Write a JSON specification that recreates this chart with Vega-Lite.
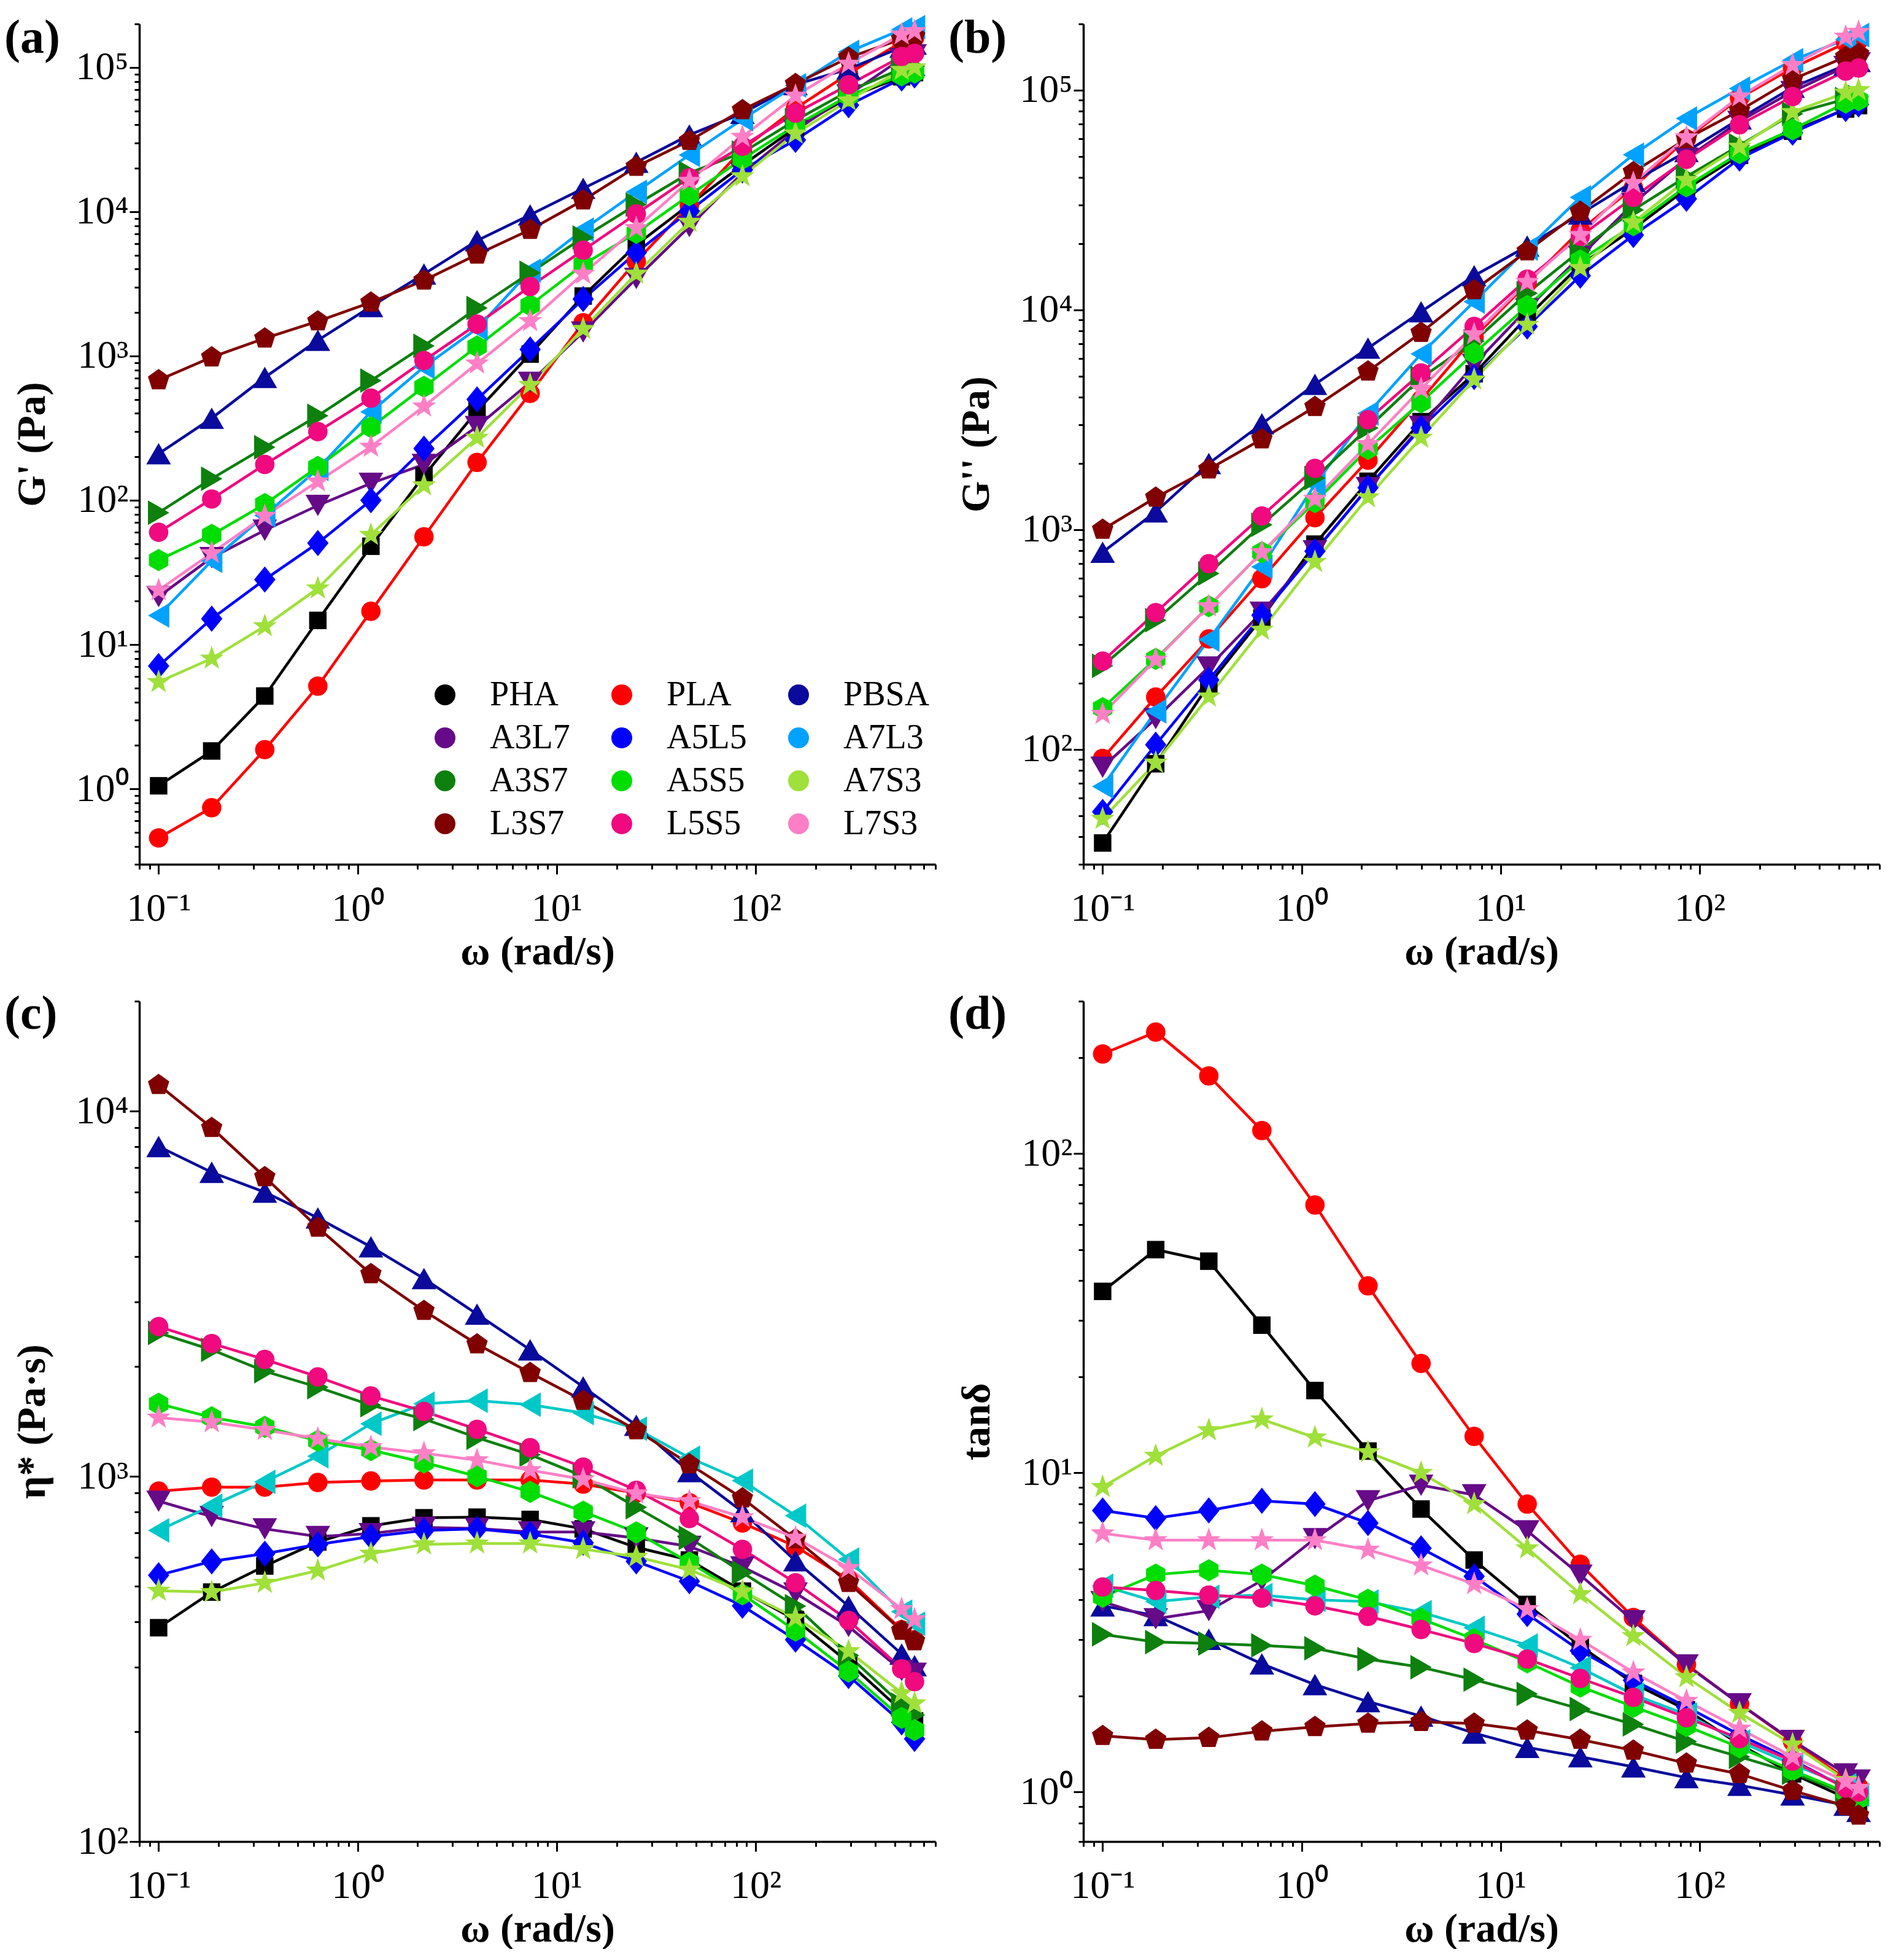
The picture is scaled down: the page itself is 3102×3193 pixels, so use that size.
{
  "$schema": "https://vega.github.io/schema/vega-lite/v6.json",
  "padding": {"left": 7, "top": 7, "right": 0, "bottom": 0},
  "background": "white",
  "config": {
    "font": "Liberation Serif",
    "view": {"stroke": null},
    "axis": {"grid": false, "domainColor": "#000000", "domainWidth": 3.5, "tickColor": "#000000", "tickWidth": 3,
      "labelFont": "Liberation Serif", "labelFontSize": 64, "labelColor": "#000000",
      "titleFont": "Liberation Serif", "titleFontSize": 66, "titleFontWeight": "bold", "titleColor": "#000000",
      "labelOverlap": false, "labelFlush": false},
    "axisX": {"labelPadding": 24, "titlePadding": 6},
    "axisY": {"labelPadding": 2, "titlePadding": 36},
    "title": {"font": "Liberation Serif", "fontSize": 78, "fontWeight": "bold", "color": "#000000", "anchor": "start", "frame": "group", "dx": -220},
    "legend": {"labelFont": "Liberation Serif", "labelFontSize": 56, "labelColor": "#000000", "symbolSize": 900, "symbolStrokeWidth": 4, "symbolOffset": 51, "labelOffset": 45, "rowPadding": 14, "columnPadding": 5, "padding": 0, "labelLimit": 400}
  },
  "data": {"values": [
    {"s":"PHA","w":0.1,"gp":1.05,"gpp":37.5,"eta":385,"tan":37},
    {"s":"PHA","w":0.1848,"gp":1.83,"gpp":86,"eta":482,"tan":50},
    {"s":"PHA","w":0.3415,"gp":4.4,"gpp":197,"eta":568,"tan":46},
    {"s":"PHA","w":0.631,"gp":14.7,"gpp":396,"eta":661,"tan":29},
    {"s":"PHA","w":1.166,"gp":48,"gpp":859,"eta":732,"tan":18.1},
    {"s":"PHA","w":2.154,"gp":148,"gpp":1660,"eta":770,"tan":11.7},
    {"s":"PHA","w":3.981,"gp":417,"gpp":3100,"eta":773,"tan":7.7},
    {"s":"PHA","w":7.356,"gp":1030,"gpp":5120,"eta":762,"tan":5.33},
    {"s":"PHA","w":13.59,"gp":2600,"gpp":9270,"eta":718,"tan":3.87},
    {"s":"PHA","w":25.12,"gp":5890,"gpp":16000,"eta":639,"tan":2.87},
    {"s":"PHA","w":46.42,"gp":11200,"gpp":23400,"eta":590,"tan":2.19},
    {"s":"PHA","w":85.77,"gp":21000,"gpp":35500,"eta":485,"tan":1.81},
    {"s":"PHA","w":158.5,"gp":38000,"gpp":50500,"eta":405,"tan":1.41},
    {"s":"PHA","w":292.9,"gp":62000,"gpp":65000,"eta":309,"tan":1.14},
    {"s":"PHA","w":541.2,"gp":86000,"gpp":82000,"eta":228,"tan":0.96},
    {"s":"PHA","w":628.3,"gp":92000,"gpp":85000,"eta":214,"tan":0.9},
    {"s":"PLA","w":0.1,"gp":0.457,"gpp":91,"eta":911,"tan":205},
    {"s":"PLA","w":0.1848,"gp":0.74,"gpp":173,"eta":934,"tan":240},
    {"s":"PLA","w":0.3415,"gp":1.87,"gpp":318,"eta":934,"tan":175},
    {"s":"PLA","w":0.631,"gp":5.15,"gpp":598,"eta":962,"tan":118},
    {"s":"PLA","w":1.166,"gp":17,"gpp":1133,"eta":971,"tan":69},
    {"s":"PLA","w":2.154,"gp":55.8,"gpp":2070,"eta":977,"tan":38.5},
    {"s":"PLA","w":3.981,"gp":183,"gpp":3900,"eta":977,"tan":22},
    {"s":"PLA","w":7.356,"gp":550,"gpp":7490,"eta":977,"tan":13},
    {"s":"PLA","w":13.59,"gp":1700,"gpp":13200,"eta":952,"tan":7.98},
    {"s":"PLA","w":25.12,"gp":4540,"gpp":23000,"eta":900,"tan":5.17},
    {"s":"PLA","w":46.42,"gp":11000,"gpp":36000,"eta":847,"tan":3.52},
    {"s":"PLA","w":85.77,"gp":27000,"gpp":60000,"eta":745,"tan":2.51},
    {"s":"PLA","w":158.5,"gp":52000,"gpp":92000,"eta":643,"tan":1.89},
    {"s":"PLA","w":292.9,"gp":90400,"gpp":126000,"eta":521,"tan":1.44},
    {"s":"PLA","w":541.2,"gp":150000,"gpp":164000,"eta":380,"tan":1.1},
    {"s":"PLA","w":628.3,"gp":160000,"gpp":168000,"eta":357,"tan":1.04},
    {"s":"PBSA","w":0.1,"gp":210,"gpp":789,"eta":8000,"tan":3.83},
    {"s":"PBSA","w":0.1848,"gp":370,"gpp":1205,"eta":6800,"tan":3.57},
    {"s":"PBSA","w":0.3415,"gp":710,"gpp":2000,"eta":6000,"tan":3.01},
    {"s":"PBSA","w":0.631,"gp":1285,"gpp":3030,"eta":5100,"tan":2.52},
    {"s":"PBSA","w":1.166,"gp":2200,"gpp":4580,"eta":4250,"tan":2.17},
    {"s":"PBSA","w":2.154,"gp":3700,"gpp":6700,"eta":3480,"tan":1.92},
    {"s":"PBSA","w":3.981,"gp":6300,"gpp":9800,"eta":2780,"tan":1.73},
    {"s":"PBSA","w":7.356,"gp":9500,"gpp":14300,"eta":2220,"tan":1.53},
    {"s":"PBSA","w":13.59,"gp":14500,"gpp":19500,"eta":1758,"tan":1.38},
    {"s":"PBSA","w":25.12,"gp":22000,"gpp":27300,"eta":1380,"tan":1.29},
    {"s":"PBSA","w":46.42,"gp":34000,"gpp":38400,"eta":1030,"tan":1.2},
    {"s":"PBSA","w":85.77,"gp":48000,"gpp":52500,"eta":800,"tan":1.11},
    {"s":"PBSA","w":158.5,"gp":76000,"gpp":74000,"eta":587,"tan":1.05},
    {"s":"PBSA","w":292.9,"gp":97500,"gpp":103000,"eta":441,"tan":0.98},
    {"s":"PBSA","w":541.2,"gp":138000,"gpp":130000,"eta":326,"tan":0.91},
    {"s":"PBSA","w":628.3,"gp":145000,"gpp":135000,"eta":303,"tan":0.87},
    {"s":"A3L7","w":0.1,"gp":21.5,"gpp":83,"eta":855,"tan":3.95},
    {"s":"A3L7","w":0.1848,"gp":40,"gpp":138,"eta":776,"tan":3.49},
    {"s":"A3L7","w":0.3415,"gp":62,"gpp":237,"eta":718,"tan":3.7},
    {"s":"A3L7","w":0.631,"gp":92,"gpp":421,"eta":684,"tan":4.6},
    {"s":"A3L7","w":1.166,"gp":131,"gpp":800,"eta":697,"tan":6.22},
    {"s":"A3L7","w":2.154,"gp":177,"gpp":1552,"eta":725,"tan":8.17},
    {"s":"A3L7","w":3.981,"gp":324,"gpp":2950,"eta":720,"tan":9.14},
    {"s":"A3L7","w":7.356,"gp":656,"gpp":5650,"eta":704,"tan":8.53},
    {"s":"A3L7","w":13.59,"gp":1465,"gpp":10100,"eta":704,"tan":6.58},
    {"s":"A3L7","w":25.12,"gp":3445,"gpp":17500,"eta":678,"tan":4.78},
    {"s":"A3L7","w":46.42,"gp":7890,"gpp":30500,"eta":643,"tan":3.44},
    {"s":"A3L7","w":85.77,"gp":18500,"gpp":49000,"eta":565,"tan":2.5},
    {"s":"A3L7","w":158.5,"gp":36600,"gpp":72000,"eta":479,"tan":1.89},
    {"s":"A3L7","w":292.9,"gp":64500,"gpp":98500,"eta":388,"tan":1.45},
    {"s":"A3L7","w":541.2,"gp":115000,"gpp":128000,"eta":294,"tan":1.14},
    {"s":"A3L7","w":628.3,"gp":122000,"gpp":133000,"eta":289,"tan":1.09},
    {"s":"A5L5","w":0.1,"gp":7.1,"gpp":52,"eta":536,"tan":7.62},
    {"s":"A5L5","w":0.1848,"gp":15.1,"gpp":105,"eta":585,"tan":7.21},
    {"s":"A5L5","w":0.3415,"gp":28.2,"gpp":207,"eta":614,"tan":7.62},
    {"s":"A5L5","w":0.631,"gp":50.5,"gpp":408,"eta":651,"tan":8.17},
    {"s":"A5L5","w":1.166,"gp":100,"gpp":797,"eta":684,"tan":7.98},
    {"s":"A5L5","w":2.154,"gp":228,"gpp":1552,"eta":711,"tan":6.96},
    {"s":"A5L5","w":3.981,"gp":500,"gpp":2900,"eta":718,"tan":5.8},
    {"s":"A5L5","w":7.356,"gp":1110,"gpp":4950,"eta":695,"tan":4.74},
    {"s":"A5L5","w":13.59,"gp":2480,"gpp":8400,"eta":658,"tan":3.61},
    {"s":"A5L5","w":25.12,"gp":5200,"gpp":14300,"eta":585,"tan":2.77},
    {"s":"A5L5","w":46.42,"gp":10100,"gpp":21900,"eta":516,"tan":2.24},
    {"s":"A5L5","w":85.77,"gp":19500,"gpp":32000,"eta":442,"tan":1.85},
    {"s":"A5L5","w":158.5,"gp":31400,"gpp":48800,"eta":357,"tan":1.51},
    {"s":"A5L5","w":292.9,"gp":54700,"gpp":64000,"eta":284,"tan":1.26},
    {"s":"A5L5","w":541.2,"gp":83700,"gpp":82000,"eta":212,"tan":1.03},
    {"s":"A5L5","w":628.3,"gp":88000,"gpp":86000,"eta":191,"tan":0.97},
    {"s":"A7L3","w":0.1,"gp":15.9,"gpp":67.8,"eta":711,"tan":4.43},
    {"s":"A7L3","w":0.1848,"gp":38,"gpp":149,"eta":831,"tan":3.95},
    {"s":"A7L3","w":0.3415,"gp":78.5,"gpp":316,"eta":966,"tan":4.09},
    {"s":"A7L3","w":0.631,"gp":165,"gpp":677,"eta":1135,"tan":4.14},
    {"s":"A7L3","w":1.166,"gp":410,"gpp":1605,"eta":1393,"tan":4.0},
    {"s":"A7L3","w":2.154,"gp":840,"gpp":3380,"eta":1580,"tan":3.95},
    {"s":"A7L3","w":3.981,"gp":1550,"gpp":6300,"eta":1611,"tan":3.66},
    {"s":"A7L3","w":7.356,"gp":3890,"gpp":10900,"eta":1571,"tan":3.27},
    {"s":"A7L3","w":13.59,"gp":7500,"gpp":19000,"eta":1490,"tan":2.88},
    {"s":"A7L3","w":25.12,"gp":13700,"gpp":32500,"eta":1350,"tan":2.45},
    {"s":"A7L3","w":46.42,"gp":24700,"gpp":50800,"eta":1124,"tan":2.02},
    {"s":"A7L3","w":85.77,"gp":43700,"gpp":74300,"eta":973,"tan":1.75},
    {"s":"A7L3","w":158.5,"gp":75000,"gpp":101600,"eta":780,"tan":1.44},
    {"s":"A7L3","w":292.9,"gp":128000,"gpp":136800,"eta":592,"tan":1.22},
    {"s":"A7L3","w":541.2,"gp":183000,"gpp":170000,"eta":426,"tan":1.05},
    {"s":"A7L3","w":628.3,"gp":190000,"gpp":178000,"eta":395,"tan":0.98},
    {"s":"A3S7","w":0.1,"gp":82,"gpp":240,"eta":2470,"tan":3.12},
    {"s":"A3S7","w":0.1848,"gp":141,"gpp":387,"eta":2220,"tan":2.95},
    {"s":"A3S7","w":0.3415,"gp":233,"gpp":632,"eta":1940,"tan":2.92},
    {"s":"A3S7","w":0.631,"gp":385,"gpp":1052,"eta":1754,"tan":2.88},
    {"s":"A3S7","w":1.166,"gp":675,"gpp":1718,"eta":1566,"tan":2.82},
    {"s":"A3S7","w":2.154,"gp":1175,"gpp":2900,"eta":1435,"tan":2.61},
    {"s":"A3S7","w":3.981,"gp":2150,"gpp":4900,"eta":1276,"tan":2.46},
    {"s":"A3S7","w":7.356,"gp":3770,"gpp":7200,"eta":1146,"tan":2.25},
    {"s":"A3S7","w":13.59,"gp":6620,"gpp":11900,"eta":1000,"tan":2.03},
    {"s":"A3S7","w":25.12,"gp":11200,"gpp":18600,"eta":823,"tan":1.82},
    {"s":"A3S7","w":46.42,"gp":18550,"gpp":28500,"eta":679,"tan":1.63},
    {"s":"A3S7","w":85.77,"gp":25700,"gpp":40400,"eta":545,"tan":1.44},
    {"s":"A3S7","w":158.5,"gp":43000,"gpp":56000,"eta":441,"tan":1.29},
    {"s":"A3S7","w":292.9,"gp":68500,"gpp":78000,"eta":323,"tan":1.15},
    {"s":"A3S7","w":541.2,"gp":98000,"gpp":91000,"eta":237,"tan":0.99},
    {"s":"A3S7","w":628.3,"gp":102000,"gpp":93000,"eta":222,"tan":0.94},
    {"s":"A5S5","w":0.1,"gp":38.5,"gpp":154,"eta":1580,"tan":4.09},
    {"s":"A5S5","w":0.1848,"gp":57.5,"gpp":258,"eta":1450,"tan":4.8},
    {"s":"A5S5","w":0.3415,"gp":94,"gpp":448,"eta":1366,"tan":4.95},
    {"s":"A5S5","w":0.631,"gp":170,"gpp":789,"eta":1251,"tan":4.8},
    {"s":"A5S5","w":1.166,"gp":321,"gpp":1333,"eta":1180,"tan":4.43},
    {"s":"A5S5","w":2.154,"gp":611,"gpp":2330,"eta":1091,"tan":4.0},
    {"s":"A5S5","w":3.981,"gp":1163,"gpp":3800,"eta":1000,"tan":3.49},
    {"s":"A5S5","w":7.356,"gp":2245,"gpp":6350,"eta":907,"tan":3.01},
    {"s":"A5S5","w":13.59,"gp":4310,"gpp":10400,"eta":800,"tan":2.55},
    {"s":"A5S5","w":25.12,"gp":7130,"gpp":16800,"eta":702,"tan":2.14},
    {"s":"A5S5","w":46.42,"gp":13000,"gpp":24300,"eta":581,"tan":1.85},
    {"s":"A5S5","w":85.77,"gp":23200,"gpp":36500,"eta":475,"tan":1.61},
    {"s":"A5S5","w":158.5,"gp":39500,"gpp":51700,"eta":378,"tan":1.38},
    {"s":"A5S5","w":292.9,"gp":63500,"gpp":66200,"eta":292,"tan":1.17},
    {"s":"A5S5","w":541.2,"gp":88000,"gpp":87700,"eta":218,"tan":1.0},
    {"s":"A5S5","w":628.3,"gp":92000,"gpp":90000,"eta":202,"tan":0.95},
    {"s":"A7S3","w":0.1,"gp":5.5,"gpp":48.3,"eta":486,"tan":9.03},
    {"s":"A7S3","w":0.1848,"gp":8.0,"gpp":87,"eta":482,"tan":11.3},
    {"s":"A7S3","w":0.3415,"gp":13.4,"gpp":174,"eta":511,"tan":13.6},
    {"s":"A7S3","w":0.631,"gp":24.5,"gpp":350,"eta":552,"tan":14.7},
    {"s":"A7S3","w":1.166,"gp":57.5,"gpp":713,"eta":614,"tan":12.9},
    {"s":"A7S3","w":2.154,"gp":127,"gpp":1403,"eta":651,"tan":11.6},
    {"s":"A7S3","w":3.981,"gp":271,"gpp":2620,"eta":655,"tan":10.0},
    {"s":"A7S3","w":7.356,"gp":630,"gpp":4820,"eta":655,"tan":7.98},
    {"s":"A7S3","w":13.59,"gp":1540,"gpp":8550,"eta":632,"tan":5.8},
    {"s":"A7S3","w":25.12,"gp":3715,"gpp":15500,"eta":602,"tan":4.17},
    {"s":"A7S3","w":46.42,"gp":8500,"gpp":25000,"eta":555,"tan":3.08},
    {"s":"A7S3","w":85.77,"gp":17600,"gpp":39000,"eta":484,"tan":2.29},
    {"s":"A7S3","w":158.5,"gp":34800,"gpp":55200,"eta":410,"tan":1.77},
    {"s":"A7S3","w":292.9,"gp":59000,"gpp":79400,"eta":332,"tan":1.41},
    {"s":"A7S3","w":541.2,"gp":96000,"gpp":97300,"eta":255,"tan":1.09},
    {"s":"A7S3","w":628.3,"gp":100000,"gpp":100000,"eta":239,"tan":1.03},
    {"s":"L3S7","w":0.1,"gp":680,"gpp":1000,"eta":11800,"tan":1.5},
    {"s":"L3S7","w":0.1848,"gp":980,"gpp":1400,"eta":9000,"tan":1.46},
    {"s":"L3S7","w":0.3415,"gp":1325,"gpp":1883,"eta":6600,"tan":1.48},
    {"s":"L3S7","w":0.631,"gp":1740,"gpp":2580,"eta":4800,"tan":1.55},
    {"s":"L3S7","w":1.166,"gp":2350,"gpp":3620,"eta":3580,"tan":1.6},
    {"s":"L3S7","w":2.154,"gp":3340,"gpp":5250,"eta":2840,"tan":1.64},
    {"s":"L3S7","w":3.981,"gp":5050,"gpp":7870,"eta":2300,"tan":1.66},
    {"s":"L3S7","w":7.356,"gp":7500,"gpp":12300,"eta":1920,"tan":1.64},
    {"s":"L3S7","w":13.59,"gp":12000,"gpp":18500,"eta":1611,"tan":1.56},
    {"s":"L3S7","w":25.12,"gp":20500,"gpp":28000,"eta":1339,"tan":1.46},
    {"s":"L3S7","w":46.42,"gp":31000,"gpp":42400,"eta":1080,"tan":1.35},
    {"s":"L3S7","w":85.77,"gp":50700,"gpp":60000,"eta":871,"tan":1.23},
    {"s":"L3S7","w":158.5,"gp":76800,"gpp":80700,"eta":673,"tan":1.14},
    {"s":"L3S7","w":292.9,"gp":117000,"gpp":112000,"eta":511,"tan":1.01},
    {"s":"L3S7","w":541.2,"gp":157000,"gpp":141600,"eta":378,"tan":0.905},
    {"s":"L3S7","w":628.3,"gp":165000,"gpp":146000,"eta":354,"tan":0.845},
    {"s":"L5S5","w":0.1,"gp":60,"gpp":252,"eta":2570,"tan":4.39},
    {"s":"L5S5","w":0.1848,"gp":102,"gpp":419,"eta":2310,"tan":4.28},
    {"s":"L5S5","w":0.3415,"gp":177,"gpp":700,"eta":2090,"tan":4.14},
    {"s":"L5S5","w":0.631,"gp":299,"gpp":1153,"eta":1872,"tan":4.05},
    {"s":"L5S5","w":1.166,"gp":510,"gpp":1900,"eta":1660,"tan":3.83},
    {"s":"L5S5","w":2.154,"gp":930,"gpp":3160,"eta":1506,"tan":3.55},
    {"s":"L5S5","w":3.981,"gp":1660,"gpp":5160,"eta":1345,"tan":3.23},
    {"s":"L5S5","w":7.356,"gp":3030,"gpp":8400,"eta":1198,"tan":2.92},
    {"s":"L5S5","w":13.59,"gp":5410,"gpp":13800,"eta":1060,"tan":2.61},
    {"s":"L5S5","w":25.12,"gp":9660,"gpp":21600,"eta":916,"tan":2.27},
    {"s":"L5S5","w":46.42,"gp":17200,"gpp":32500,"eta":766,"tan":1.98},
    {"s":"L5S5","w":85.77,"gp":28400,"gpp":48400,"eta":631,"tan":1.71},
    {"s":"L5S5","w":158.5,"gp":48200,"gpp":69500,"eta":511,"tan":1.47},
    {"s":"L5S5","w":292.9,"gp":75700,"gpp":93500,"eta":403,"tan":1.25},
    {"s":"L5S5","w":541.2,"gp":119000,"gpp":122000,"eta":297,"tan":1.03},
    {"s":"L5S5","w":628.3,"gp":125000,"gpp":126000,"eta":274,"tan":1.0},
    {"s":"L7S3","w":0.1,"gp":23.8,"gpp":145,"eta":1448,"tan":6.46},
    {"s":"L7S3","w":0.1848,"gp":43,"gpp":256,"eta":1407,"tan":6.15},
    {"s":"L7S3","w":0.3415,"gp":78,"gpp":448,"eta":1340,"tan":6.15},
    {"s":"L7S3","w":0.631,"gp":135,"gpp":789,"eta":1268,"tan":6.15},
    {"s":"L7S3","w":1.166,"gp":235,"gpp":1380,"eta":1203,"tan":6.15},
    {"s":"L7S3","w":2.154,"gp":447,"gpp":2450,"eta":1157,"tan":5.74},
    {"s":"L7S3","w":3.981,"gp":887,"gpp":4365,"eta":1107,"tan":5.13},
    {"s":"L7S3","w":7.356,"gp":1745,"gpp":7740,"eta":1040,"tan":4.48},
    {"s":"L7S3","w":13.59,"gp":3715,"gpp":13400,"eta":981,"tan":3.74},
    {"s":"L7S3","w":25.12,"gp":7700,"gpp":21900,"eta":898,"tan":3.0},
    {"s":"L7S3","w":46.42,"gp":16350,"gpp":37800,"eta":855,"tan":2.37},
    {"s":"L7S3","w":85.77,"gp":33000,"gpp":61000,"eta":773,"tan":1.93},
    {"s":"L7S3","w":158.5,"gp":63600,"gpp":93500,"eta":679,"tan":1.58},
    {"s":"L7S3","w":292.9,"gp":106000,"gpp":130000,"eta":561,"tan":1.29},
    {"s":"L7S3","w":541.2,"gp":169000,"gpp":175000,"eta":433,"tan":1.08},
    {"s":"L7S3","w":628.3,"gp":178000,"gpp":184000,"eta":406,"tan":1.03}
  ]},
  "columns": 2,
  "spacing": {"row": 223, "column": 241},
  "bounds": "flush",
  "resolve": {
    "scale": {"x": "independent", "y": "independent", "color": "independent", "shape": "independent"},
    "legend": {"color": "independent", "shape": "independent"}
  },
  "concat": [
    {
      "width": 1297, "height": 1369,
      "title": {"text": "(a)", "offset": -95},
      "encoding": {
        "x": {"field": "w", "type": "quantitative",
          "scale": {"type": "log", "domain": [0.08, 800], "nice": false},
          "axis": {"title": "ω (rad/s)", "values": [0.08,0.09,0.1,0.2,0.3,0.4,0.5,0.6,0.7,0.8,0.9,1,2,3,4,5,6,7,8,9,10,20,30,40,50,60,70,80,90,100,200,300,400,500,600,700,800],
            "tickSize": {"expr": "abs(log(datum.value)/LN10 - round(log(datum.value)/LN10)) < 0.000001 ? 16 : 8"},
            "labelExpr": "abs(log(datum.value)/LN10 - round(log(datum.value)/LN10)) < 0.000001 ? '10' + replace(replace(replace(replace(replace(replace(replace('' + round(log(datum.value)/LN10), '-', '⁻'), '0', '⁰'), '1', '¹'), '2', '²'), '3', '³'), '4', '⁴'), '5', '⁵') : ''"}},
        "y": {"field": "gp", "type": "quantitative",
          "scale": {"type": "log", "domain": [0.3, 200000], "nice": false},
          "axis": {"title": "G' (Pa)", "values": [0.3,0.4,0.5,0.6,0.7,0.8,0.9,1,2,3,4,5,6,7,8,9,10,20,30,40,50,60,70,80,90,100,200,300,400,500,600,700,800,900,1000,2000,3000,4000,5000,6000,7000,8000,9000,10000,20000,30000,40000,50000,60000,70000,80000,90000,100000,200000],
            "tickSize": {"expr": "abs(log(datum.value)/LN10 - round(log(datum.value)/LN10)) < 0.000001 ? 16 : 8"},
            "labelExpr": "abs(log(datum.value)/LN10 - round(log(datum.value)/LN10)) < 0.000001 ? '10' + replace(replace(replace(replace(replace(replace(replace('' + round(log(datum.value)/LN10), '-', '⁻'), '0', '⁰'), '1', '¹'), '2', '²'), '3', '³'), '4', '⁴'), '5', '⁵') : ''"}}
      },
      "layer": [
        {"mark": {"type": "line", "strokeWidth": 4.5},
         "encoding": {"color": {"field": "s", "type": "nominal",
           "scale": {"domain": ["PHA","PLA","PBSA","A3L7","A5L5","A7L3","A3S7","A5S5","A7S3","L3S7","L5S5","L7S3"],
             "range": ["#000000","#ff0000","#0a0a9c","#660a88","#0000ff","#00a2ff","#0d800d","#00dd00","#9fe03a","#800000","#f0097f","#ff7fc6"]}}}},
        {"mark": {"type": "point", "filled": true, "size": 1000, "opacity": 1},
         "encoding": {
           "color": {"field": "s", "type": "nominal",
             "scale": {"domain": ["PHA","PLA","PBSA","A3L7","A5L5","A7L3","A3S7","A5S5","A7S3","L3S7","L5S5","L7S3"],
               "range": ["#000000","#ff0000","#0a0a9c","#660a88","#0000ff","#00a2ff","#0d800d","#00dd00","#9fe03a","#800000","#f0097f","#ff7fc6"]},
             "legend": {"title": null, "orient": "none", "legendX": 419, "legendY": 1065, "columns": 3, "direction": "horizontal",
               "encode": {"symbols": {
                 "shape": {"value": {"signal": "{'PHA':'M-4.4,0H4.4M-0.9,-0.9H0.9V0.9H-0.9Z','PLA':'M-4.4,0H4.4M-1,0A1,1,0,1,0,1,0A1,1,0,1,0,-1,0Z','PBSA':'M-4.4,0H4.4M0,-1.1L1.27,1.1L-1.27,1.1Z','A3L7':'M-4.4,0H4.4M0,1.1L1.27,-1.1L-1.27,-1.1Z','A5L5':'M-4.4,0H4.4M0,-1.35L1.1,0L0,1.35L-1.1,0Z','A7L3':'M-4.4,0H4.4M-1.1,0L1.1,-1.27L1.1,1.27Z','A3S7':'M-4.4,0H4.4M1.1,0L-1.1,-1.27L-1.1,1.27Z','A5S5':'M-4.4,0H4.4M0,-1.15L1,-0.58L1,0.58L0,1.15L-1,0.58L-1,-0.58Z','A7S3':'M-4.4,0H4.4M0,-1.3L0.306,-0.421L1.236,-0.402L0.495,0.161L0.764,1.052L0,0.52L-0.764,1.052L-0.495,0.161L-1.236,-0.402L-0.306,-0.421Z','L3S7':'M-4.4,0H4.4M0,-1.15L1.1,-0.36L0.68,0.95L-0.68,0.95L-1.1,-0.36Z','L5S5':'M-4.4,0H4.4M-1,0A1,1,0,1,0,1,0A1,1,0,1,0,-1,0Z','L7S3':'M-4.4,0H4.4M0,-1.3L0.306,-0.421L1.236,-0.402L0.495,0.161L0.764,1.052L0,0.52L-0.764,1.052L-0.495,0.161L-1.236,-0.402L-0.306,-0.421Z'}[datum.value]"}},
                 "stroke": {"value": {"signal": "{'PHA':'#000000','PLA':'#ff0000','PBSA':'#0a0a9c','A3L7':'#660a88','A5L5':'#0000ff','A7L3':'#00a2ff','A3S7':'#0d800d','A5S5':'#00dd00','A7S3':'#9fe03a','L3S7':'#800000','L5S5':'#f0097f','L7S3':'#ff7fc6'}[datum.value]"}},
                 "strokeWidth": {"value": 4},
                 "opacity": {"value": 1}}}}},
           "shape": {"field": "s", "type": "nominal", "legend": null,
             "scale": {"domain": ["L7S3","L5S5","L3S7","A7S3","A5S5","A3S7","A7L3","A5L5","A3L7","PBSA","PLA","PHA"],
               "range": ["M0,-1.3L0.306,-0.421L1.236,-0.402L0.495,0.161L0.764,1.052L0,0.52L-0.764,1.052L-0.495,0.161L-1.236,-0.402L-0.306,-0.421Z","circle","M0,-1.15L1.1,-0.36L0.68,0.95L-0.68,0.95L-1.1,-0.36Z","M0,-1.3L0.306,-0.421L1.236,-0.402L0.495,0.161L0.764,1.052L0,0.52L-0.764,1.052L-0.495,0.161L-1.236,-0.402L-0.306,-0.421Z","M0,-1.15L1,-0.58L1,0.58L0,1.15L-1,0.58L-1,-0.58Z","M1.1,0L-1.1,-1.27L-1.1,1.27Z","M-1.1,0L1.1,-1.27L1.1,1.27Z","M0,-1.35L1.1,0L0,1.35L-1.1,0Z","M0,1.1L1.27,-1.1L-1.27,-1.1Z","M0,-1.1L1.27,1.1L-1.27,1.1Z","circle","M-0.9,-0.9H0.9V0.9H-0.9Z"]}}
         }}
      ]
    },
    {
      "width": 1297, "height": 1369,
      "title": {"text": "(b)", "offset": -95},
      "encoding": {
        "x": {"field": "w", "type": "quantitative",
          "scale": {"type": "log", "domain": [0.08, 800], "nice": false},
          "axis": {"title": "ω (rad/s)", "values": [0.08,0.09,0.1,0.2,0.3,0.4,0.5,0.6,0.7,0.8,0.9,1,2,3,4,5,6,7,8,9,10,20,30,40,50,60,70,80,90,100,200,300,400,500,600,700,800],
            "tickSize": {"expr": "abs(log(datum.value)/LN10 - round(log(datum.value)/LN10)) < 0.000001 ? 16 : 8"},
            "labelExpr": "abs(log(datum.value)/LN10 - round(log(datum.value)/LN10)) < 0.000001 ? '10' + replace(replace(replace(replace(replace(replace(replace('' + round(log(datum.value)/LN10), '-', '⁻'), '0', '⁰'), '1', '¹'), '2', '²'), '3', '³'), '4', '⁴'), '5', '⁵') : ''"}},
        "y": {"field": "gpp", "type": "quantitative",
          "scale": {"type": "log", "domain": [30, 200000], "nice": false},
          "axis": {"title": "G'' (Pa)", "values": [30,40,50,60,70,80,90,100,200,300,400,500,600,700,800,900,1000,2000,3000,4000,5000,6000,7000,8000,9000,10000,20000,30000,40000,50000,60000,70000,80000,90000,100000,200000],
            "tickSize": {"expr": "abs(log(datum.value)/LN10 - round(log(datum.value)/LN10)) < 0.000001 ? 16 : 8"},
            "labelExpr": "abs(log(datum.value)/LN10 - round(log(datum.value)/LN10)) < 0.000001 ? '10' + replace(replace(replace(replace(replace(replace(replace('' + round(log(datum.value)/LN10), '-', '⁻'), '0', '⁰'), '1', '¹'), '2', '²'), '3', '³'), '4', '⁴'), '5', '⁵') : ''"}}
      },
      "layer": [
        {"mark": {"type": "line", "strokeWidth": 4.5},
         "encoding": {"color": {"field": "s", "type": "nominal", "legend": null,
           "scale": {"domain": ["PHA","PLA","PBSA","A3L7","A5L5","A7L3","A3S7","A5S5","A7S3","L3S7","L5S5","L7S3"],
             "range": ["#000000","#ff0000","#0a0a9c","#660a88","#0000ff","#00a2ff","#0d800d","#00dd00","#9fe03a","#800000","#f0097f","#ff7fc6"]}}}},
        {"mark": {"type": "point", "filled": true, "size": 1000, "opacity": 1},
         "encoding": {
           "color": {"field": "s", "type": "nominal", "legend": null,
             "scale": {"domain": ["PHA","PLA","PBSA","A3L7","A5L5","A7L3","A3S7","A5S5","A7S3","L3S7","L5S5","L7S3"],
               "range": ["#000000","#ff0000","#0a0a9c","#660a88","#0000ff","#00a2ff","#0d800d","#00dd00","#9fe03a","#800000","#f0097f","#ff7fc6"]}},
           "shape": {"field": "s", "type": "nominal", "legend": null,
             "scale": {"domain": ["PHA","PLA","PBSA","A3L7","A5L5","A7L3","A3S7","A5S5","A7S3","L3S7","L5S5","L7S3"],
               "range": ["M-0.9,-0.9H0.9V0.9H-0.9Z","circle","M0,-1.1L1.27,1.1L-1.27,1.1Z","M0,1.1L1.27,-1.1L-1.27,-1.1Z","M0,-1.35L1.1,0L0,1.35L-1.1,0Z","M-1.1,0L1.1,-1.27L1.1,1.27Z","M1.1,0L-1.1,-1.27L-1.1,1.27Z","M0,-1.15L1,-0.58L1,0.58L0,1.15L-1,0.58L-1,-0.58Z","M0,-1.3L0.306,-0.421L1.236,-0.402L0.495,0.161L0.764,1.052L0,0.52L-0.764,1.052L-0.495,0.161L-1.236,-0.402L-0.306,-0.421Z","M0,-1.15L1.1,-0.36L0.68,0.95L-0.68,0.95L-1.1,-0.36Z","circle","M0,-1.3L0.306,-0.421L1.236,-0.402L0.495,0.161L0.764,1.052L0,0.52L-0.764,1.052L-0.495,0.161L-1.236,-0.402L-0.306,-0.421Z"]}}
         }}
      ]
    },
    {
      "width": 1297, "height": 1369,
      "title": {"text": "(c)", "offset": -93},
      "encoding": {
        "x": {"field": "w", "type": "quantitative",
          "scale": {"type": "log", "domain": [0.08, 800], "nice": false},
          "axis": {"title": "ω (rad/s)", "values": [0.08,0.09,0.1,0.2,0.3,0.4,0.5,0.6,0.7,0.8,0.9,1,2,3,4,5,6,7,8,9,10,20,30,40,50,60,70,80,90,100,200,300,400,500,600,700,800],
            "tickSize": {"expr": "abs(log(datum.value)/LN10 - round(log(datum.value)/LN10)) < 0.000001 ? 16 : 8"},
            "labelExpr": "abs(log(datum.value)/LN10 - round(log(datum.value)/LN10)) < 0.000001 ? '10' + replace(replace(replace(replace(replace(replace(replace('' + round(log(datum.value)/LN10), '-', '⁻'), '0', '⁰'), '1', '¹'), '2', '²'), '3', '³'), '4', '⁴'), '5', '⁵') : ''"}},
        "y": {"field": "eta", "type": "quantitative",
          "scale": {"type": "log", "domain": [100, 20000], "nice": false},
          "axis": {"title": "η* (Pa·s)", "values": [100,200,300,400,500,600,700,800,900,1000,2000,3000,4000,5000,6000,7000,8000,9000,10000,20000],
            "tickSize": {"expr": "abs(log(datum.value)/LN10 - round(log(datum.value)/LN10)) < 0.000001 ? 16 : 8"},
            "labelExpr": "abs(log(datum.value)/LN10 - round(log(datum.value)/LN10)) < 0.000001 ? '10' + replace(replace(replace(replace(replace(replace(replace('' + round(log(datum.value)/LN10), '-', '⁻'), '0', '⁰'), '1', '¹'), '2', '²'), '3', '³'), '4', '⁴'), '5', '⁵') : ''"}}
      },
      "layer": [
        {"mark": {"type": "line", "strokeWidth": 4.5},
         "encoding": {"color": {"field": "s", "type": "nominal", "legend": null,
           "scale": {"domain": ["PHA","PLA","PBSA","A3L7","A5L5","A7L3","A3S7","A5S5","A7S3","L3S7","L5S5","L7S3"],
             "range": ["#000000","#ff0000","#0a0a9c","#660a88","#0000ff","#00c8c8","#0d800d","#00dd00","#9fe03a","#800000","#f0097f","#ff7fc6"]}}}},
        {"mark": {"type": "point", "filled": true, "size": 1000, "opacity": 1},
         "encoding": {
           "color": {"field": "s", "type": "nominal", "legend": null,
             "scale": {"domain": ["PHA","PLA","PBSA","A3L7","A5L5","A7L3","A3S7","A5S5","A7S3","L3S7","L5S5","L7S3"],
               "range": ["#000000","#ff0000","#0a0a9c","#660a88","#0000ff","#00c8c8","#0d800d","#00dd00","#9fe03a","#800000","#f0097f","#ff7fc6"]}},
           "shape": {"field": "s", "type": "nominal", "legend": null,
             "scale": {"domain": ["PHA","PLA","PBSA","A3L7","A5L5","A7L3","A3S7","A5S5","A7S3","L3S7","L5S5","L7S3"],
               "range": ["M-0.9,-0.9H0.9V0.9H-0.9Z","circle","M0,-1.1L1.27,1.1L-1.27,1.1Z","M0,1.1L1.27,-1.1L-1.27,-1.1Z","M0,-1.35L1.1,0L0,1.35L-1.1,0Z","M-1.1,0L1.1,-1.27L1.1,1.27Z","M1.1,0L-1.1,-1.27L-1.1,1.27Z","M0,-1.15L1,-0.58L1,0.58L0,1.15L-1,0.58L-1,-0.58Z","M0,-1.3L0.306,-0.421L1.236,-0.402L0.495,0.161L0.764,1.052L0,0.52L-0.764,1.052L-0.495,0.161L-1.236,-0.402L-0.306,-0.421Z","M0,-1.15L1.1,-0.36L0.68,0.95L-0.68,0.95L-1.1,-0.36Z","circle","M0,-1.3L0.306,-0.421L1.236,-0.402L0.495,0.161L0.764,1.052L0,0.52L-0.764,1.052L-0.495,0.161L-1.236,-0.402L-0.306,-0.421Z"]}}
         }}
      ]
    },
    {
      "width": 1297, "height": 1369,
      "title": {"text": "(d)", "offset": -93},
      "encoding": {
        "x": {"field": "w", "type": "quantitative",
          "scale": {"type": "log", "domain": [0.08, 800], "nice": false},
          "axis": {"title": "ω (rad/s)", "values": [0.08,0.09,0.1,0.2,0.3,0.4,0.5,0.6,0.7,0.8,0.9,1,2,3,4,5,6,7,8,9,10,20,30,40,50,60,70,80,90,100,200,300,400,500,600,700,800],
            "tickSize": {"expr": "abs(log(datum.value)/LN10 - round(log(datum.value)/LN10)) < 0.000001 ? 16 : 8"},
            "labelExpr": "abs(log(datum.value)/LN10 - round(log(datum.value)/LN10)) < 0.000001 ? '10' + replace(replace(replace(replace(replace(replace(replace('' + round(log(datum.value)/LN10), '-', '⁻'), '0', '⁰'), '1', '¹'), '2', '²'), '3', '³'), '4', '⁴'), '5', '⁵') : ''"}},
        "y": {"field": "tan", "type": "quantitative",
          "scale": {"type": "log", "domain": [0.7, 300], "nice": false},
          "axis": {"title": "tanδ", "values": [0.7,0.8,0.9,1,2,3,4,5,6,7,8,9,10,20,30,40,50,60,70,80,90,100,200,300],
            "tickSize": {"expr": "abs(log(datum.value)/LN10 - round(log(datum.value)/LN10)) < 0.000001 ? 16 : 8"},
            "labelExpr": "abs(log(datum.value)/LN10 - round(log(datum.value)/LN10)) < 0.000001 ? '10' + replace(replace(replace(replace(replace(replace(replace('' + round(log(datum.value)/LN10), '-', '⁻'), '0', '⁰'), '1', '¹'), '2', '²'), '3', '³'), '4', '⁴'), '5', '⁵') : ''"}}
      },
      "layer": [
        {"mark": {"type": "line", "strokeWidth": 4.5},
         "encoding": {"color": {"field": "s", "type": "nominal", "legend": null,
           "scale": {"domain": ["PHA","PLA","PBSA","A3L7","A5L5","A7L3","A3S7","A5S5","A7S3","L3S7","L5S5","L7S3"],
             "range": ["#000000","#ff0000","#0a0a9c","#660a88","#0000ff","#00c8c8","#0d800d","#00dd00","#9fe03a","#800000","#f0097f","#ff7fc6"]}}}},
        {"mark": {"type": "point", "filled": true, "size": 1000, "opacity": 1},
         "encoding": {
           "color": {"field": "s", "type": "nominal", "legend": null,
             "scale": {"domain": ["PHA","PLA","PBSA","A3L7","A5L5","A7L3","A3S7","A5S5","A7S3","L3S7","L5S5","L7S3"],
               "range": ["#000000","#ff0000","#0a0a9c","#660a88","#0000ff","#00c8c8","#0d800d","#00dd00","#9fe03a","#800000","#f0097f","#ff7fc6"]}},
           "shape": {"field": "s", "type": "nominal", "legend": null,
             "scale": {"domain": ["PHA","PLA","PBSA","A3L7","A5L5","A7L3","A3S7","A5S5","A7S3","L3S7","L5S5","L7S3"],
               "range": ["M-0.9,-0.9H0.9V0.9H-0.9Z","circle","M0,-1.1L1.27,1.1L-1.27,1.1Z","M0,1.1L1.27,-1.1L-1.27,-1.1Z","M0,-1.35L1.1,0L0,1.35L-1.1,0Z","M-1.1,0L1.1,-1.27L1.1,1.27Z","M1.1,0L-1.1,-1.27L-1.1,1.27Z","M0,-1.15L1,-0.58L1,0.58L0,1.15L-1,0.58L-1,-0.58Z","M0,-1.3L0.306,-0.421L1.236,-0.402L0.495,0.161L0.764,1.052L0,0.52L-0.764,1.052L-0.495,0.161L-1.236,-0.402L-0.306,-0.421Z","M0,-1.15L1.1,-0.36L0.68,0.95L-0.68,0.95L-1.1,-0.36Z","circle","M0,-1.3L0.306,-0.421L1.236,-0.402L0.495,0.161L0.764,1.052L0,0.52L-0.764,1.052L-0.495,0.161L-1.236,-0.402L-0.306,-0.421Z"]}}
         }}
      ]
    }
  ]
}
